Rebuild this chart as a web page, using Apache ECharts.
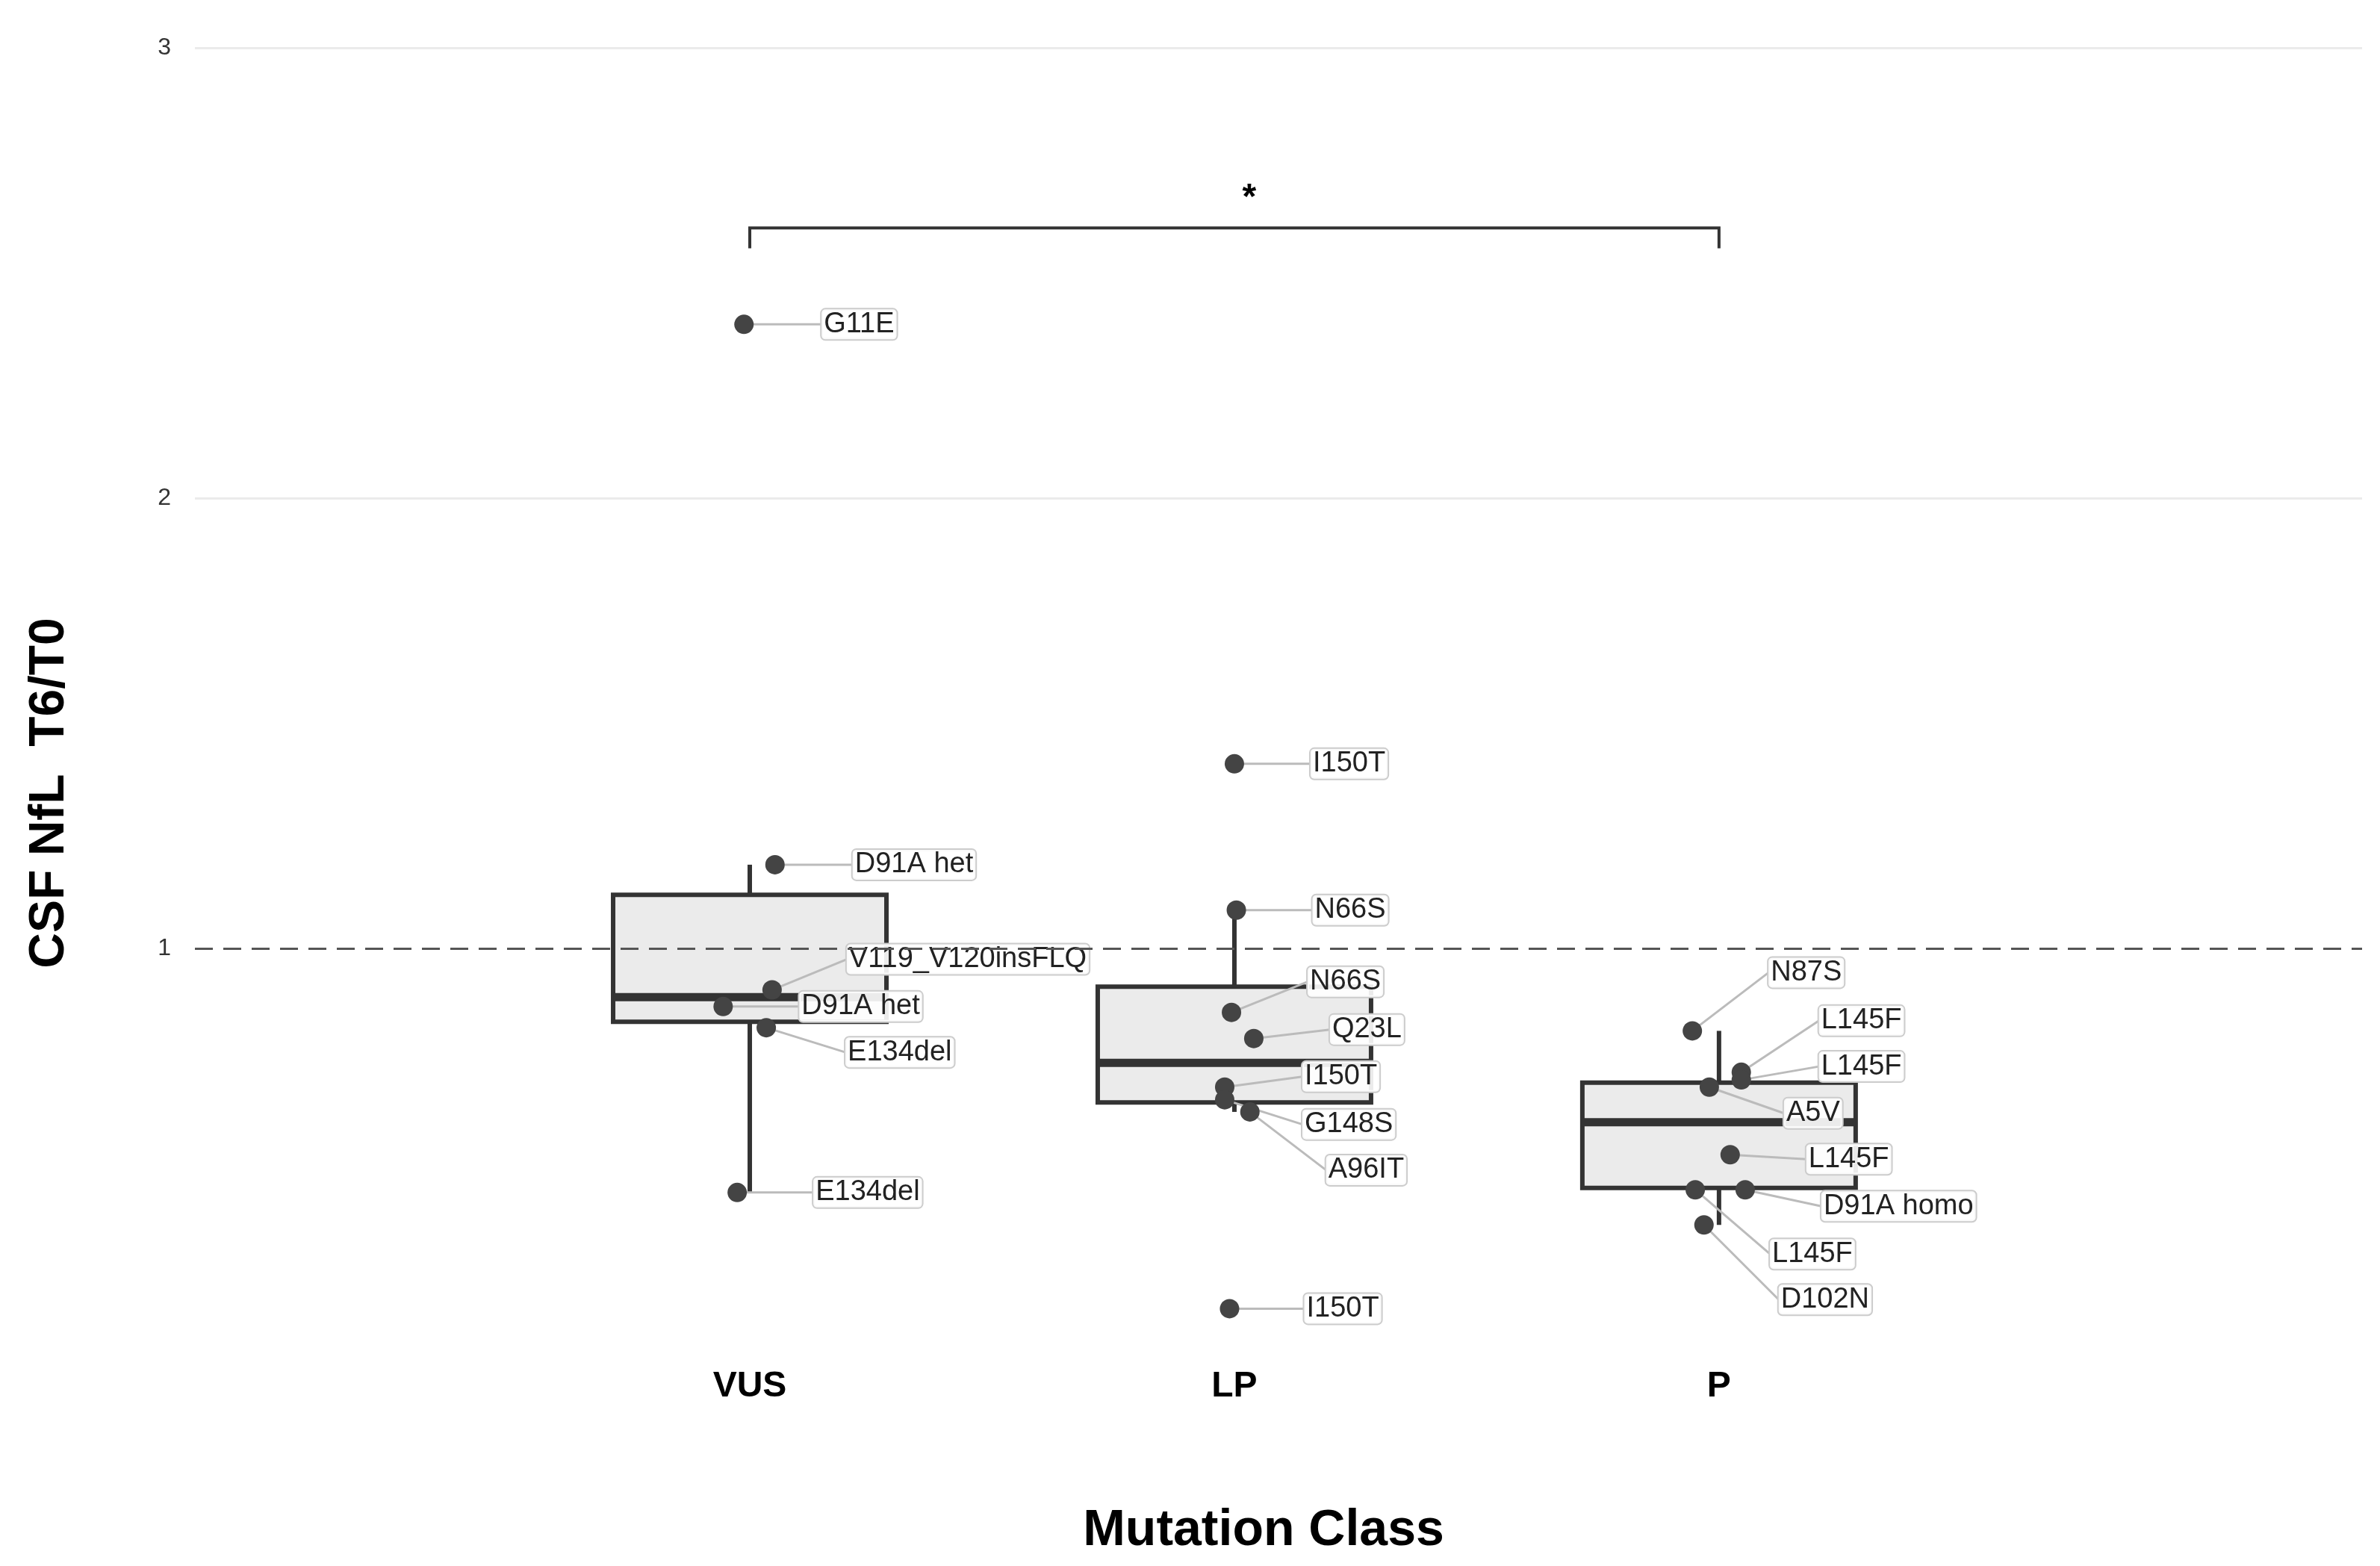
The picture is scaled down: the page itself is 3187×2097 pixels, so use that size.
<!DOCTYPE html>
<html>
<head>
<meta charset="utf-8">
<script src="https://cdn.jsdelivr.net/npm/echarts@6/dist/echarts.min.js"></script>
<style>html,body{margin:0;padding:0;background:#fff}#chart{width:3187px;height:2097px}</style>
</head>
<body>
<div id="chart"></div>
<script>
// groups on the x axis (positions 1, 2, 3)
const categories = ['VUS', 'LP', 'P'];
// box stats per group: [whiskerLow, q1, median, q3, whiskerHigh]
const boxStats = [
    [0.458, 0.837, 0.892, 1.119, 1.186],
    [0.637, 0.658, 0.746, 0.915, 1.085],
    [0.386, 0.468, 0.614, 0.702, 0.817]
];
// individual patients: group index, jitter, value, variant
const pointGroup  = [0, 0, 0, 0, 0, 0,   1, 1, 1, 1, 1, 1, 1, 1,   2, 2, 2, 2, 2, 2, 2, 2];
const pointJitter = [-0.012, 0.052, 0.046, -0.055, 0.034, -0.026,
                     0, 0.004, -0.006, 0.040, -0.020, -0.020, 0.032, -0.010,
                     -0.055, 0.046, 0.046, -0.020, 0.023, 0.054, -0.049, -0.031];
const pointValue  = [2.386, 1.186, 0.908, 0.871, 0.824, 0.458,
                     1.410, 1.085, 0.858, 0.800, 0.692, 0.664, 0.637, 0.200,
                     0.817, 0.725, 0.708, 0.692, 0.542, 0.464, 0.464, 0.386];
const pointLabel  = ['G11E', 'D91A het', 'V119_V120insFLQ', 'D91A het', 'E134del', 'E134del',
                     'I150T', 'N66S', 'N66S', 'Q23L', 'I150T', 'G148S', 'A96IT', 'I150T',
                     'N87S', 'L145F', 'L145F', 'A5V', 'L145F', 'D91A homo', 'L145F', 'D102N'];
// repel offsets of the labels, in pixels
const labelShift = [[104,0],[104,0],[100,-41],[102,0],[106,33],[102,0],
                    [102,0],[102,0],[102,-41],[102,-12],[104,-14],[104,33],[102,78],[100,0],
                    [102,-78],[104,-69],[104,-18],[100,35],[102,6],[102,22],[100,86],[100,100]];
// significance bracket
const bracket = {from: 0, to: 2, value: 2.60, tick: 0.045, text: '*'};

const chart = echarts.init(document.getElementById('chart'));

const boxData = boxStats.map((s, i) => [i + 1].concat(s));
const pointData = pointValue.map((v, i) => [pointGroup[i] + 1 + pointJitter[i], v, i]);
const font = 'Liberation Sans, Arial, sans-serif';

chart.setOption({
    animation: false,
    backgroundColor: '#fff',
    grid: {left: 261, right: 24, top: 34, bottom: 224},
    graphic: [
        {type: 'text', x: 67, y: 1062, rotation: Math.PI / 2,
            style: {text: 'CSF NfL  T6/T0', fontFamily: font, fontWeight: 'bold', fontSize: 66,
                fill: '#000', align: 'center', verticalAlign: 'middle'}},
        {type: 'text', x: 1692, y: 2050,
            style: {text: 'Mutation Class', fontFamily: font, fontWeight: 'bold', fontSize: 68,
                fill: '#000', align: 'center', verticalAlign: 'middle'}}
    ],
    xAxis: {
        type: 'value', min: -0.145, max: 4.327,
        axisLine: {show: false}, axisTick: {show: false},
        axisLabel: {show: false}, splitLine: {show: false}
    },
    yAxis: {
        type: 'value', min: 0, max: 3.05, interval: 1,
        axisLine: {show: false}, axisTick: {show: false},
        axisLabel: {
            fontFamily: font, fontSize: 32, color: '#333', margin: 32,
            formatter: v => (v === 0 ? '' : v)
        },
        splitLine: {lineStyle: {color: ['#ffffff', '#ffffff', '#ebebeb', '#ebebeb'], width: 3}}
    },
    series: [
        {
            type: 'custom',
            data: boxData,
            z: 2,
            renderItem: (params, api) => {
                const x = api.value(0);
                const half = 0.282;
                const lo = api.coord([x, api.value(1)]);
                const q1 = api.coord([x - half, api.value(2)]);
                const md = api.coord([x - half, api.value(3)]);
                const q3 = api.coord([x + half, api.value(4)]);
                const hi = api.coord([x, api.value(5)]);
                const stroke = {stroke: '#333', lineWidth: 6};
                const lab = api.coord([x, 0]);
                return {
                    type: 'group',
                    children: [
                        {type: 'line', shape: {x1: lo[0], y1: lo[1], x2: lo[0], y2: q1[1]}, style: stroke},
                        {type: 'line', shape: {x1: hi[0], y1: hi[1], x2: hi[0], y2: q3[1]}, style: stroke},
                        {type: 'rect', shape: {x: q1[0], y: q3[1], width: q3[0] - q1[0], height: q1[1] - q3[1]},
                            style: {fill: '#ebebeb', stroke: '#333', lineWidth: 6}},
                        {type: 'line', shape: {x1: q1[0], y1: md[1], x2: q3[0], y2: md[1]},
                            style: {stroke: '#333', lineWidth: 11}},
                        {type: 'text', x: lab[0], y: lab[1] - 16,
                            style: {text: categories[params.dataIndex], fontFamily: font, fontWeight: 'bold',
                                fontSize: 48, fill: '#000', align: 'center', verticalAlign: 'middle'}}
                    ]
                };
            },
            markLine: {
                silent: true, symbol: 'none', label: {show: false},
                lineStyle: {type: [24, 14], color: '#555', width: 3},
                data: [{yAxis: 1}]
            }
        },
        {
            type: 'custom',
            data: pointData,
            z: 3,
            renderItem: (params, api) => {
                const i = api.value(2);
                const p = api.coord([api.value(0), api.value(1)]);
                const s = labelShift[i];
                const lx = p[0] + s[0], ly = p[1] + s[1];
                return {
                    type: 'group',
                    children: [
                        {type: 'line', z2: 1, shape: {x1: p[0], y1: p[1], x2: lx, y2: ly},
                            style: {stroke: '#bbb', lineWidth: 3}},
                        {type: 'text', z2: 2, x: lx, y: ly,
                            style: {text: pointLabel[i], fontFamily: font, fontSize: 38, fill: '#222',
                                align: 'left', verticalAlign: 'middle',
                                backgroundColor: 'rgba(255,255,255,0.9)', borderColor: '#ccc',
                                borderWidth: 2, borderRadius: 5, padding: [2, 3, 0, 3]}},
                        {type: 'circle', z2: 3, shape: {cx: p[0], cy: p[1], r: 13}, style: {fill: '#444'}}
                    ]
                };
            }
        },
        {
            type: 'custom',
            data: [[bracket.from + 1, bracket.to + 1, bracket.value]],
            z: 4,
            renderItem: (params, api) => {
                const a = api.coord([api.value(0), api.value(2)]);
                const b = api.coord([api.value(1), api.value(2)]);
                const t = api.coord([api.value(0), api.value(2) - bracket.tick]);
                const st = {stroke: '#333', lineWidth: 4, fill: null};
                return {
                    type: 'group',
                    children: [
                        {type: 'polyline', shape: {points: [[a[0], t[1]], a, b, [b[0], t[1]]]}, style: st},
                        {type: 'text', x: (a[0] + b[0]) / 2 + 20, y: a[1] - 40,
                            style: {text: bracket.text, fontFamily: font, fontWeight: 'bold', fontSize: 48,
                                fill: '#000', align: 'center', verticalAlign: 'middle'}}
                    ]
                };
            }
        }
    ]
});
</script>
</body>
</html>
